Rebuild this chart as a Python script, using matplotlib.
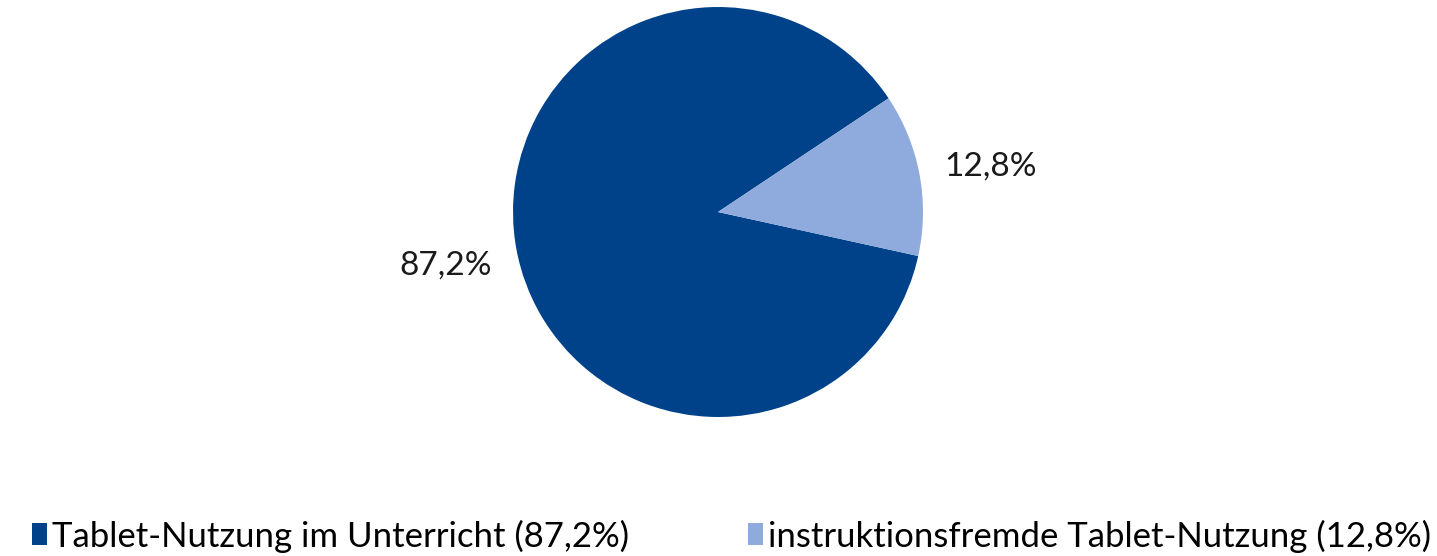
import matplotlib
matplotlib.use('Agg')
import matplotlib.pyplot as plt
from matplotlib.patches import Patch

labels = ['Tablet-Nutzung im Unterricht', 'instruktionsfremde Tablet-Nutzung']
values = [87.2, 12.8]
colors = ['#00428A', '#8FAADC']

plt.rcParams['font.family'] = ['Lato', 'DejaVu Sans']

fig = plt.figure(figsize=(14.37, 5.56), dpi=100, facecolor='white')
ax = fig.add_axes([0.357, 0.25, 0.2853, 0.7374])

def fmt(p):
    return f'{p:.1f}%'.replace('.', ',')

wedges, texts, autotexts = ax.pie(values, colors=colors, startangle=-12.4, counterclock=False,
                                  autopct=fmt, pctdistance=1.34, radius=1,
                                  wedgeprops=dict(linewidth=0))
# Excel puts the outside labels a bit off the bisector
label_pos = [(-1.33, -0.26), (1.33, 0.22)]
for t, p in zip(autotexts, label_pos):
    t.set_fontsize(24)
    t.set_color('#1a1a1a')
    t.set_position(p)
ax.set_xlim(-1, 1)
ax.set_ylim(-1, 1)
ax.set_aspect('equal')

handles = [Patch(facecolor=c, edgecolor='none') for c in colors]
leg_labels = [f'{l} ({fmt(v)})' for l, v in zip(labels, values)]
fig.legend(handles, leg_labels, loc='center left', bbox_to_anchor=(0.022, 0.036), ncol=2,
           frameon=False, fontsize=25, handlelength=0.45, handleheight=0.6,
           handletextpad=0.15, columnspacing=3.4, borderpad=0, borderaxespad=0)

fig.savefig('out.png', dpi=100, facecolor='white')
